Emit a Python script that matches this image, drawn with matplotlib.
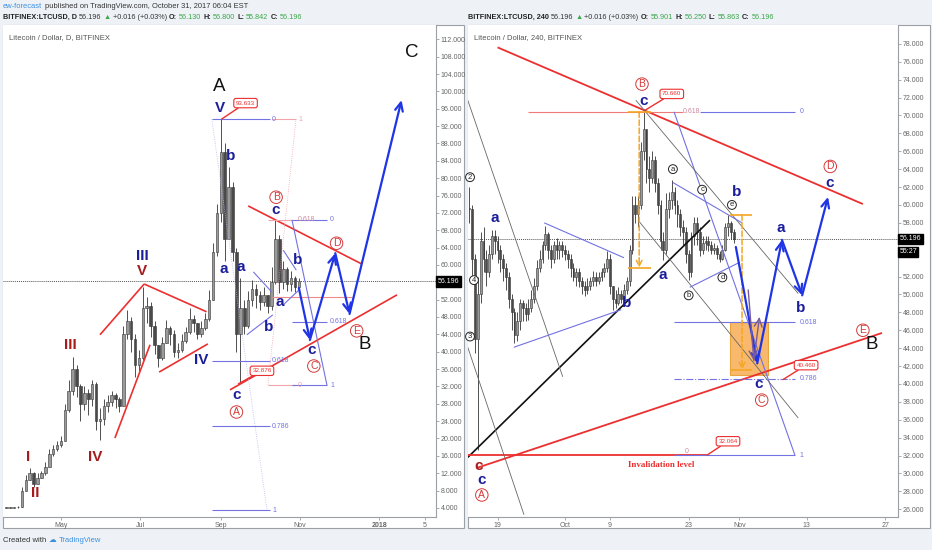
import numpy as np
import matplotlib.pyplot as plt
from matplotlib.patches import Rectangle

plt.rcParams['font.family'] = ['Liberation Sans', 'DejaVu Sans']

W, H = 932, 550

# ---- daily chart, 3-day candles, x = days after 1 May 2017
day_x = np.arange(-42, 184, 3)
day_close = [4.0, 4.0, 4.1, 4.2, 8.0, 10.5, 12.0, 9.5, 11.0, 12.0,
             13.5, 16.5, 17.5, 18.5, 19.5, 26.5, 31.0, 36.0, 32.0, 28.0,
             30.5, 29.0, 32.5, 24.0, 24.5, 27.5, 28.5, 30.0, 29.0, 27.5,
             44.0, 47.0, 43.0, 37.0, 38.5, 50.0, 50.5, 46.0, 41.5, 38.5,
             42.0, 45.5, 44.0, 40.0, 40.5, 42.5, 44.5, 47.5, 46.5, 44.0,
             45.5, 47.5, 52.0, 63.0, 72.0, 86.0, 66.0, 78.0, 63.0, 44.0,
             50.0, 46.0, 52.0, 54.5, 53.0, 51.5, 53.0, 50.5, 56.0, 66.0,
             56.0, 59.0, 55.5, 57.0, 55.0, 56.2]
day_high = [4.2, 4.2, 4.3, 4.5, 8.8, 11.5, 13.2, 12.2, 12.0, 12.5,
            14.5, 17.5, 18.5, 19.5, 20.5, 28.0, 33.5, 38.8, 37.0, 32.5,
            32.0, 31.5, 33.5, 33.0, 27.0, 29.0, 30.0, 31.0, 30.5, 29.5,
            46.0, 49.6, 48.0, 44.0, 40.5, 54.9, 52.5, 51.5, 47.0, 41.5,
            43.5, 47.3, 46.0, 45.0, 42.0, 44.0, 45.7, 50.0, 48.5, 46.5,
            47.0, 48.9, 54.2, 65.0, 74.0, 93.6, 88.0, 82.6, 79.0, 64.0,
            57.0, 52.0, 54.0, 56.5, 55.5, 54.0, 55.0, 53.0, 59.5, 70.4,
            67.0, 61.0, 59.5, 58.5, 57.5, 57.0]
day_low = [3.9, 3.9, 3.9, 4.0, 4.2, 8.0, 10.5, 8.8, 9.5, 10.8,
           11.5, 13.5, 16.0, 17.0, 18.0, 19.5, 26.0, 30.0, 29.5, 24.0,
           26.5, 25.5, 27.5, 22.0, 19.7, 23.0, 26.0, 27.5, 27.0, 26.0,
           27.5, 43.0, 40.0, 34.2, 35.5, 38.0, 46.5, 43.5, 39.5, 36.5,
           38.0, 42.0, 41.5, 38.8, 38.5, 40.0, 42.0, 44.0, 44.5, 43.0,
           43.4, 45.0, 47.0, 52.0, 62.0, 70.0, 61.0, 66.0, 61.0, 40.0,
           32.9, 44.0, 45.5, 50.5, 50.0, 49.5, 50.5, 49.0, 49.5, 55.5,
           53.5, 54.5, 54.0, 54.0, 53.8, 55.0]
day_ticks = [0, 61, 123, 184, 245, 280]
day_ticklabels = ['May', 'Jul', 'Sep', 'Nov', '2018', '5']
day_yticks = [v for v in range(4, 113, 4) if v != 56]

# ---- 240 chart, 12h candles, x = days after 1 Oct 2017
h4_x = np.arange(-17, 30.5, 0.5)
h4_close = [59.5, 54.0, 45.0, 50.0, 56.0, 54.0, 52.5, 54.5, 56.5, 56.0,
            55.0, 54.0, 53.0, 52.0, 49.5, 48.0, 45.5, 47.0, 49.0, 48.5,
            47.8, 48.5, 49.5, 51.0, 53.0, 54.0, 55.5, 56.8, 55.0, 54.0,
            55.5, 55.0, 55.5, 55.0, 54.5, 54.0, 53.0, 52.0, 52.5, 51.5,
            51.0, 50.5, 51.0, 51.5, 52.0, 51.5, 52.0, 52.5, 53.0, 54.0,
            51.0, 49.5, 49.0, 50.0, 49.5, 50.5, 51.5, 55.0, 60.0, 59.0,
            60.0, 66.0, 68.5, 64.0, 63.0, 65.0, 62.5, 60.0, 56.0, 55.0,
            59.5, 60.5, 61.5, 60.0, 59.0, 57.5, 57.0, 54.5, 52.5, 56.5,
            58.0, 57.0, 55.0, 55.8, 56.0, 55.5, 55.0, 55.2, 54.5, 54.0,
            55.0, 57.5, 58.0, 57.0, 56.2]
h4_high = [62.0, 60.0, 54.5, 52.0, 57.0, 57.5, 55.0, 55.5, 57.2, 57.2,
           56.5, 55.5, 54.5, 53.5, 52.5, 50.0, 48.5, 48.0, 49.5, 49.4,
           49.0, 49.5, 50.5, 51.8, 53.8, 55.0, 56.0, 57.6, 57.0, 55.5,
           56.0, 56.3, 56.0, 56.0, 55.5, 55.0, 54.5, 53.5, 53.0, 53.0,
           52.0, 51.5, 51.8, 52.0, 52.6, 52.5, 52.5, 53.0, 53.5, 54.8,
           54.5, 51.0, 50.5, 50.8, 50.5, 51.2, 52.0, 55.5, 61.0, 61.0,
           61.0, 67.0, 70.7, 68.5, 65.5, 66.0, 65.5, 63.0, 60.5, 57.0,
           61.3, 61.5, 62.8, 62.0, 60.5, 59.5, 58.3, 57.5, 55.0, 57.0,
           58.7, 58.7, 57.5, 56.5, 56.5, 56.5, 56.0, 55.8, 55.5, 54.8,
           55.5, 58.0, 58.9, 58.2, 57.3]
h4_low = [58.0, 52.0, 43.5, 32.6, 49.0, 52.5, 51.0, 52.0, 54.0, 54.5,
          53.5, 52.5, 51.5, 50.5, 48.5, 46.0, 44.6, 44.8, 46.0, 47.0,
          47.0, 47.2, 48.0, 49.0, 50.5, 52.5, 53.5, 55.0, 54.0, 53.0,
          53.5, 54.0, 54.0, 54.2, 53.8, 53.0, 52.0, 51.5, 51.0, 50.8,
          50.0, 49.8, 50.0, 50.5, 51.0, 51.0, 51.2, 51.5, 52.0, 52.5,
          50.0, 48.3, 48.5, 48.8, 49.0, 49.2, 50.0, 51.0, 54.5, 58.0,
          57.5, 59.5, 65.0, 62.5, 61.5, 62.5, 61.5, 59.0, 55.0, 53.8,
          54.5, 58.5, 59.5, 59.0, 57.5, 56.5, 55.5, 53.5, 51.6, 52.0,
          55.5, 55.5, 54.3, 54.5, 55.0, 54.8, 54.5, 54.5, 54.0, 53.6,
          53.8, 54.8, 56.5, 56.2, 55.8]
h4_ticks = [-12, 0, 8, 22, 31, 43, 57]
h4_ticklabels = ['19', 'Oct', '9', '23', 'Nov', '13', '27']
h4_yticks = [v for v in range(26, 79, 2) if v not in (56, 54)]

last_price = 56.196

RED = '#ec2f2f'
DARKRED = '#a51c1c'
CRED = '#d43a3a'
NAVY = '#1b1e9a'
ARROW = '#1f35e5'
FIB = '#7272e2'
PINK = '#f3a3ab'
ORANGE = '#f5a623'
GREEN = '#3aa54a'


def px_rect(x0, y0, x1, y1):
    return [x0 / W, 1 - y1 / H, (x1 - x0) / W, (y1 - y0) / H]


fig = plt.figure(figsize=(W / 100, H / 100), dpi=100, facecolor='#eef2f6')

for x0, x1 in [(3, 464), (468, 930)]:
    fig.patches.append(Rectangle((x0 / W, 1 - 528 / H), (x1 - x0) / W, (528 - 25) / H,
                                 transform=fig.transFigure, fc='white', ec='#9aa0a6',
                                 lw=0.8, zorder=-5))

axL = fig.add_axes(px_rect(3, 25, 436, 517))
axR = fig.add_axes(px_rect(468, 25, 898, 517))


def style(ax, xlim, ylim, xt, xtl, yt):
    ax.set_xlim(*xlim)
    ax.set_ylim(*ylim)
    ax.set_facecolor('white')
    for s in ('top', 'left'):
        ax.spines[s].set_visible(False)
    for s in ('right', 'bottom'):
        ax.spines[s].set_color('#9aa0a6')
        ax.spines[s].set_linewidth(0.8)
    ax.yaxis.tick_right()
    ax.set_xticks(xt)
    ax.set_xticklabels(xtl)
    ax.set_yticks(yt)
    ax.set_yticklabels(['%.3f' % v for v in yt])
    ax.tick_params(axis='both', labelsize=5, colors='#9aa0a6', labelcolor='#666',
                   length=2, width=0.6, pad=1.5)
    ax.axhline(last_price, color='#555', lw=0.7, ls=(0, (1, 1)), zorder=1)
    ax.text(1.003, last_price, '56.196', transform=ax.get_yaxis_transform(), ha='left',
            va='center', fontsize=5, color='white', zorder=10, clip_on=False,
            bbox=dict(boxstyle='square,pad=0.25', fc='black', ec='black'))


style(axL, (-44.6, 288.5), (1.9, 115.3), day_ticks, day_ticklabels, day_yticks)
style(axR, (-17.26, 59.25), (25.14, 80.1), h4_ticks, h4_ticklabels, h4_yticks)
axL.get_xticklabels()[4].set_fontweight('bold')
axR.text(1.003, 54.75, '55:27', transform=axR.get_yaxis_transform(), ha='left',
         va='center', fontsize=5, color='white', zorder=10, clip_on=False,
         bbox=dict(boxstyle='square,pad=0.2', fc='black', ec='black'))

axL.text(0.015, 0.975, 'Litecoin / Dollar, D, BITFINEX', transform=axL.transAxes,
         fontsize=5.5, color='#555', va='center')
axR.text(0.015, 0.975, 'Litecoin / Dollar, 240, BITFINEX', transform=axR.transAxes,
         fontsize=5.5, color='#555', va='center')


def draw_candles(ax, x, close, high, low, width):
    close = np.asarray(close, float)
    opn = np.r_[close[0], close[:-1]]
    hi = np.maximum(np.asarray(high, float), np.maximum(opn, close))
    lo = np.minimum(np.asarray(low, float), np.minimum(opn, close))
    ax.vlines(x, lo, hi, color='#333333', lw=0.6, zorder=2)
    body = close - opn
    body = np.where(np.abs(body) < 0.2, 0.2, body)
    cols = np.where(close >= opn, '#9a9a9a', '#4a4a4a')
    ax.bar(x, body, bottom=opn, width=width, color=cols, edgecolor='#333333',
           lw=0.4, zorder=3)


draw_candles(axL, day_x, day_close, day_high, day_low, 2.0)
draw_candles(axR, h4_x, h4_close, h4_high, h4_low, 0.32)


def seg(ax, p0, p1, color, lw=1.2, ls='-', z=4):
    ax.plot([p0[0], p1[0]], [p0[1], p1[1]], color=color, lw=lw, ls=ls, zorder=z,
            solid_capstyle='butt')


def wave(ax, x, y, s, color, size=11, weight='bold'):
    ax.text(x, y, s, color=color, fontsize=size, fontweight=weight, ha='center',
            va='center', zorder=7)


def circled(ax, x, y, s, color=CRED, size=7.5):
    ax.text(x, y, s, color=color, fontsize=size, ha='center', va='center', zorder=7,
            bbox=dict(boxstyle='circle,pad=0.12', fc='white', ec=color, lw=0.7))


def arrow_path(ax, pts, color=ARROW, lw=1.6):
    for (x0, y0), (x1, y1) in zip(pts[:-1], pts[1:]):
        ax.annotate('', xy=(x1, y1), xytext=(x0, y0), zorder=6,
                    arrowprops=dict(arrowstyle='->,head_length=0.6,head_width=0.28',
                                    color=color, lw=lw, shrinkA=0, shrinkB=0))


def price_box(ax, text, box, point):
    ax.annotate(text, xy=point, xytext=box, fontsize=4.5, color=RED, ha='center',
                va='center', zorder=8,
                bbox=dict(boxstyle='round,pad=0.35', fc='white', ec=RED, lw=0.8),
                arrowprops=dict(arrowstyle='-', color=RED, lw=1.0, shrinkA=0, shrinkB=0))


def fib_label(ax, x, y, s, color=FIB):
    ax.text(x, y, s, fontsize=5, color=color, ha='left', va='center', zorder=6)


# ================= left (daily) drawings
seg(axL, (41.5, 20.1), (68.5, 41.6), RED)
seg(axL, (30, 43.9), (64, 55.6), RED)
seg(axL, (64, 55.6), (112, 49.2), RED)
seg(axL, (75.5, 35.3), (113, 41.8), RED)
seg(axL, (144, 73.6), (231.5, 60.2), RED)
seg(axL, (130, 31.2), (258.5, 53.1), RED)
seg(axL, (162, 52.6), (224, 52.6), '#f08a8a', lw=0.8)

# fib on whole rise
for lvl, lab in [(93.6, '0'), (37.9, '0.618'), (22.8, '0.786'), (3.5, '1')]:
    seg(axL, (116, lvl), (161, lvl), FIB, lw=0.8)
    fib_label(axL, 162.5, lvl, lab)
seg(axL, (116, 93.6), (158.5, 3.5), '#b8b8f0', lw=0.6, ls=':')
# pink fib
seg(axL, (162, 93.6), (181, 93.6), PINK, lw=0.8)
fib_label(axL, 183, 93.6, '1', PINK)
seg(axL, (159, 32.3), (181, 32.3), PINK, lw=0.8)
fib_label(axL, 182.5, 32.3, '0', PINK)
seg(axL, (159.2, 32.3), (180.8, 93.6), PINK, lw=0.6, ls=':')
seg(axL, (159, 70.4), (178, 70.4), PINK, lw=0.8)
# blue fib on wave C
for lvl in [70.4, 46.9, 32.3]:
    seg(axL, (177.7, lvl), (204.6, lvl), FIB, lw=0.8)
fib_label(axL, 182, 70.4, '0.618', '#d08aa0')
fib_label(axL, 207, 70.4, '0')
fib_label(axL, 206.5, 46.9, '0.618')
fib_label(axL, 207, 32.3, '1')
seg(axL, (177.7, 70.4), (204.6, 32.3), FIB, lw=0.8)

for p0, p1 in [((148, 58.4), (162, 53.8)), ((143, 43.9), (163, 48.5)),
               ((171, 63.4), (181, 58.8)), ((171, 50.8), (183, 54.2))]:
    seg(axL, p0, p1, FIB, lw=0.8)

arrow_path(axL, [(183, 54.7), (191.5, 42.7), (211, 62.7), (222, 48.7), (262, 98)])

for s, x, y in [('I', -25.5, 15.8), ('II', -20, 7.5), ('III', 7, 41.5), ('IV', 26, 15.8),
                ('V', 62, 58.6)]:
    wave(axL, x, y, s, DARKRED, 11)
for s, x, y in [('III', 63, 62.0), ('IV', 108, 38.1), ('V', 122, 96.2), ('a', 125.5, 59),
                ('b', 130.5, 85.2), ('a', 138.5, 59.5), ('b', 160, 45.7), ('a', 168.5, 51.5),
                ('c', 165.5, 72.6), ('b', 182, 61.1), ('c', 135, 30), ('c', 193, 40.4)]:
    wave(axL, x, y, s, NAVY, 11)
for s, x, y in [('A', 122, 101.2), ('B', 234, 41.6), ('C', 270, 109)]:
    wave(axL, x, y, s, '#111', 13.5, 'normal')
for s, x, y in [('A', 135, 26.1), ('B', 165.5, 75.6), ('C', 194.5, 36.7),
                ('D', 212, 65), ('E', 227.5, 44.8)]:
    circled(axL, x, y, s)
price_box(axL, '93.633', (142, 97.3), (123.5, 93.6))
price_box(axL, '32.876', (154.6, 35.6), (136.5, 32.6))

# ================= right (240) drawings
seg(axR, (-12, 77.6), (53, 60.1), RED, lw=1.3)
seg(axR, (-15.8, 30.6), (56.4, 45.7), RED, lw=1.3)
seg(axR, (-17.3, 31.8), (25.8, 58.3), '#111', lw=1.2)
seg(axR, (-17.3, 32.064), (25.3, 32.064), RED, lw=1.3)
axR.text(11.2, 31.0, 'Invalidation level', color=RED, fontsize=6.5, fontweight='bold',
         family=['Liberation Serif', 'DejaVu Serif'], ha='left', va='center', zorder=7)
price_box(axR, '32.064', (29, 33.6), (25.3, 32.064))
seg(axR, (-6.6, 70.4), (21, 70.4), '#f07a7a', lw=0.8)
fib_label(axR, 21, 70.4, '0.618', '#d08aa0')
fib_label(axR, 21.3, 32.5, '0', '#d08aa0')

for lvl, lab, ls in [(70.4, '0', '-'), (46.9, '0.618', '-'), (40.6, '0.786', '-.'),
                     (32.064, '1', '-')]:
    seg(axR, (19.4 if lvl != 70.4 else 24.0, lvl), (40.9, lvl), FIB, lw=0.8, ls=ls)
    fib_label(axR, 41.8, lvl, lab)
seg(axR, (19.4, 70.4), (40.9, 32.064), FIB, lw=0.8)

for p0, p1 in [((-17.3, 71.7), (-0.4, 40.8)), ((-17.3, 44.1), (-7.3, 25.4)),
               ((12.6, 71.7), (41.5, 50.1)), ((13, 58.3), (41.5, 36.2))]:
    seg(axR, p0, p1, '#666', lw=0.6)
for p0, p1 in [((-3.7, 58), (10.5, 54.1)), ((-9.1, 44.1), (10, 48.3)),
               ((19.2, 62.5), (31.5, 58)), ((22.2, 50.8), (31.1, 53.6))]:
    seg(axR, p0, p1, FIB, lw=0.8)

# orange measured moves
axR.add_patch(Rectangle((29.4, 41.0), 6.7, 5.9, fc='#f7a84a', ec='#e8951e', lw=0.8,
                        alpha=0.8, zorder=3))
for xm, top, bot, x0, x1 in [(13.2, 70.4, 53.0, 11.2, 15.3), (31.5, 58.9, 41.6, 29.4, 33.3)]:
    seg(axR, (x0, top), (x1, top), ORANGE, lw=1.2, z=5)
    seg(axR, (x0, bot), (x1, bot), ORANGE, lw=1.2, z=5)
    axR.annotate('', xy=(xm, bot), xytext=(xm, top), zorder=5,
                 arrowprops=dict(arrowstyle='->,head_length=0.4,head_width=0.2',
                                 color=ORANGE, lw=1.1, ls='--', shrinkA=0, shrinkB=0))

arrow_path(axR, [(30.4, 55.3), (34.2, 42.3), (38.6, 56.1), (42.2, 49.9), (46.8, 60.9)])
arrow_path(axR, [(32.6, 50.5), (33.6, 42.6), (34.6, 47.5)], color='#7a5a9a', lw=1.0)

for s, x, y in [('a', -12.5, 58.5), ('b', 11, 49), ('a', 17.4, 52.2), ('c', 14, 71.6),
                ('c', -14.8, 29.3), ('b', 30.6, 61.4), ('a', 38.4, 57.4), ('b', 42, 48.5),
                ('c', 47, 62.4), ('c', 34.5, 40.0)]:
    wave(axR, x, y, s, NAVY, 11)
wave(axR, -15.3, 30.8, 'c', DARKRED, 11)
wave(axR, 54.6, 44.4, 'B', '#111', 13.5, 'normal')
for s, x, y in [('B', 13.7, 73.5), ('A', -14.8, 27.6), ('D', 47.2, 64.3), ('E', 53, 46.0),
                ('C', 35, 38.2)]:
    circled(axR, x, y, s)
for s, x, y in [('a', 19.2, 64), ('b', 22, 49.9), ('c', 24.4, 61.7), ('d', 28, 51.9),
                ('e', 29.7, 60), ('2', -16.9, 63.1), ('4', -16.2, 51.6), ('3', -16.9, 45.3)]:
    circled(axR, x, y, s, '#222', 5.5)
price_box(axR, '70.660', (19, 72.4), (14.3, 70.6))
price_box(axR, '40.460', (42.9, 42.1), (38.8, 40.5))

# ================= header / footer
renderer = fig.canvas.get_renderer()


def chain(x, y, parts, size=5.3, gap=2.5):
    for s, col, wt in parts:
        t = fig.text(x / W, 1 - y / H, s, color=col, fontsize=size, fontweight=wt,
                     ha='left', va='center')
        x += t.get_window_extent(renderer=renderer).width + gap


chain(3, 7, [('ew-forecast', '#3d8fe0', 'normal'),
             ('published on TradingView.com, October 31, 2017 06:04 EST', '#333', 'normal')],
      size=5.4)


def ohlc_line(x, tf, o, h, l):
    chain(x, 17.5, [('BITFINEX:LTCUSD, %s' % tf, '#222', 'bold'), ('56.196', '#333', 'normal'),
                    ('\u25b2', GREEN, 'normal'), ('+0.016 (+0.03%)', '#333', 'normal'),
                    ('O:', '#222', 'bold'), (o, GREEN, 'normal'), ('H:', '#222', 'bold'),
                    (h, GREEN, 'normal'), ('L:', '#222', 'bold'), (l, GREEN, 'normal'),
                    ('C:', '#222', 'bold'), ('56.196', GREEN, 'normal')], size=5.2, gap=2)


ohlc_line(3, 'D', '56.130', '56.800', '55.842')
ohlc_line(468, '240', '55.901', '56.250', '55.863')

chain(3, 540, [('Created with', '#333', 'normal'), ('\u2601', '#3d8fe0', 'normal'),
               ('TradingView', '#3d8fe0', 'normal')], size=5.5)

fig.savefig('out.png', dpi=100, facecolor=fig.get_facecolor())
